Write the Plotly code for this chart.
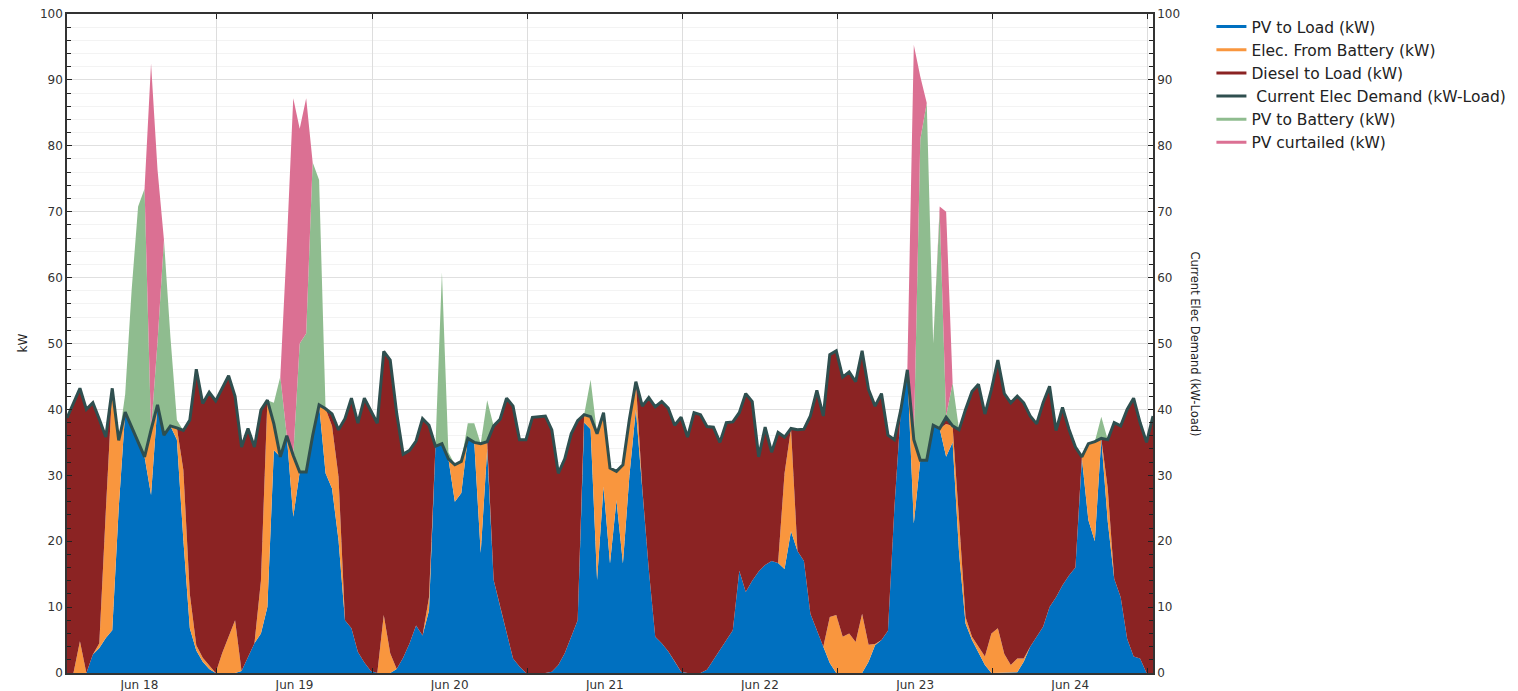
import plotly.graph_objects as go
import pandas as pd

START = "2023-06-18 00:48"
END = "2023-06-25 00:48"
hours = pd.date_range(START, periods=169, freq="h")

# Current Elec Demand (kW-Load)
demand = [
    38.7, 41.0, 43.2, 40.0, 41.0, 38.5, 35.8, 43.2, 35.3, 39.6, 37.3, 35.0, 32.8, 36.9, 40.7, 36.1, 37.5, 37.2, 36.8, 38.4, 46.1, 40.9, 42.6, 41.3,
    43.2, 45.1, 42.0, 34.3, 37.1, 34.3, 39.9, 41.4, 37.8, 32.8, 36.0, 33.0, 30.5, 30.5, 36.0, 40.7, 40.1, 39.3, 36.9, 38.6, 41.7, 37.9, 41.7, 39.8,
    37.9, 48.8, 47.5, 39.4, 33.2, 33.8, 35.2, 38.6, 37.6, 34.4, 34.8, 32.5, 31.6, 32.1, 35.6, 35.0, 34.8, 35.1, 37.5, 38.5, 41.7, 40.5, 35.4, 35.4,
    38.8, 38.9, 39.0, 36.9, 30.3, 32.5, 36.3, 38.3, 39.2, 38.9, 36.3, 39.5, 31.1, 30.6, 31.6, 38.5, 44.2, 40.5, 41.8, 40.4, 41.2, 40.2, 37.6, 38.8,
    35.8, 39.5, 39.2, 37.4, 37.3, 35.0, 38.0, 38.1, 39.5, 42.4, 41.2, 32.8, 37.3, 33.5, 36.5, 35.8, 37.1, 36.9, 37.0, 39.0, 42.9, 39.0, 48.3, 48.9,
    44.9, 45.7, 44.2, 48.9, 43.0, 40.5, 42.4, 36.1, 35.4, 40.0, 46.0, 35.4, 32.3, 32.3, 37.6, 37.1, 38.8, 37.5, 36.9, 40.0, 42.7, 43.8, 39.3, 43.0,
    47.5, 42.4, 41.0, 42.0, 41.0, 39.0, 37.8, 41.0, 43.5, 36.8, 40.3, 37.0, 34.3, 32.8, 34.8, 35.1, 35.6, 35.4, 38.0, 37.5, 40.0, 41.7, 38.0, 35.0,
    39.0,
]

pv_to_load = [
    0, 0, 0, 0, 2.8, 3.8, 5.3, 6.5, 25.0, 39.6, 37.3, 35.0, 32.8, 27.0, 40.7, 36.1, 37.5, 35.4, 20.2, 6.8, 3.4, 1.7, 0.6, 0,
    0, 0, 0, 0.3, 2.3, 4.5, 6.0, 10.0, 33.8, 32.8, 36.0, 23.7, 30.5, 30.5, 36.0, 40.7, 30.3, 28.0, 20.2, 8.0, 6.8, 3.2, 1.6, 0.3,
    0, 0, 0, 0.6, 2.3, 4.5, 7.2, 5.7, 9.5, 34.4, 34.8, 32.5, 26.0, 27.3, 35.6, 35.0, 18.2, 34.0, 14.1, 10.1, 6.0, 2.2, 1.0, 0,
    0, 0, 0, 0.2, 1.2, 3.0, 5.5, 8.0, 38.0, 37.0, 14.1, 28.3, 16.6, 26.2, 16.6, 29.9, 40.0, 28.0, 15.7, 5.5, 4.5, 3.3, 1.8, 0.2,
    0, 0, 0, 0.5, 2.0, 3.4, 5.0, 6.5, 15.5, 12.3, 14.0, 15.4, 16.4, 17.0, 16.7, 15.8, 21.5, 18.5, 17.0, 9.0, 6.5, 4.0, 1.5, 0,
    0, 0, 0, 0, 1.7, 4.2, 5.0, 6.4, 25.2, 40.0, 46.0, 22.7, 32.3, 32.3, 37.6, 37.1, 32.8, 35.0, 18.2, 7.5, 5.0, 3.0, 1.2, 0,
    0, 0, 0, 0.1, 1.7, 4.0, 5.5, 7.0, 10.0, 11.5, 13.3, 14.8, 16.0, 32.6, 23.2, 20.0, 35.6, 23.0, 14.3, 11.5, 5.2, 2.5, 2.2, 0,
    0,
]

elec_from_battery = [
    0, 0, 4.8, 0, 0, 0.7, 19.2, 36.7, 10.3, 0, 0, 0, 0, 9.9, 0, 0, 0, 1.8, 10.6, 5.2, 0.8, 0.6, 0.6, 0,
    3.0, 5.5, 8.0, 0, 0, 0, 8.0, 31.4, 4.0, 0, 0, 9.3, 0, 0, 0, 0, 9.8, 9.5, 9.6, 0, 0, 0, 0, 0,
    0, 8.8, 3.0, 0, 0, 0, 0, 0, 2.0, 0, 0, 0, 5.6, 4.8, 0, 0, 16.6, 1.1, 0, 0, 0, 0, 0, 0,
    0, 0, 0, 0, 0, 0, 0, 0, 1.2, 1.9, 22.2, 11.2, 14.5, 4.4, 15.0, 8.6, 4.2, 0, 0, 0, 0, 0, 0, 0,
    0, 0, 0, 0, 0, 0, 0, 0, 0, 0, 0, 0, 0, 0, 0, 14.5, 15.6, 0, 0, 0, 0, 0, 7.0, 8.8,
    5.5, 6.0, 4.7, 9.0, 2.6, 0.2, 0, 0, 0, 0, 0, 12.7, 0, 0, 0, 0, 5.0, 2.5, 5.0, 1.0, 0.5, 1.0, 1.3, 6.0,
    6.8, 2.9, 1.2, 2.1, 0.5, 0, 0, 0, 0, 0, 0, 0, 0, 0.2, 11.6, 15.1, 0, 5.0, 0, 0, 0, 0, 0, 0,
    0,
]

diesel_to_load = [
    38.7, 41.0, 38.4, 40.0, 38.2, 34.0, 11.3, 0, 0, 0, 0, 0, 0, 0, 0, 0, 0, 0, 6.0, 26.4, 41.9, 38.6, 41.4, 41.3,
    40.2, 39.6, 34.0, 34.0, 34.8, 29.8, 25.9, 0, 0, 0, 0, 0, 0, 0, 0, 0, 0, 1.8, 7.1, 30.6, 34.9, 34.7, 40.1, 39.5,
    37.9, 40.0, 44.5, 38.8, 30.9, 29.3, 28.0, 32.9, 26.1, 0, 0, 0, 0, 0, 0, 0, 0, 0, 23.4, 28.4, 35.7, 38.3, 34.4, 35.4,
    38.8, 38.9, 39.0, 36.7, 29.1, 29.5, 30.8, 30.3, 0, 0, 0, 0, 0, 0, 0, 0, 0, 12.5, 26.1, 34.9, 36.7, 36.9, 35.8, 38.6,
    35.8, 39.5, 39.2, 36.9, 35.3, 31.6, 33.0, 31.6, 24.0, 30.1, 27.2, 17.4, 20.9, 16.5, 19.8, 5.5, 0, 18.4, 20.0, 30.0, 36.4, 35.0, 39.8, 40.1,
    39.4, 39.7, 39.5, 39.9, 38.7, 36.1, 37.4, 29.7, 10.2, 0, 0, 0, 0, 0, 0, 0, 1.0, 0, 13.7, 31.5, 37.2, 39.8, 36.8, 37.0,
    40.7, 39.5, 39.8, 39.8, 38.8, 35.0, 32.3, 34.0, 33.5, 25.3, 27.0, 22.2, 18.3, 0, 0, 0, 0, 7.4, 23.7, 26.0, 34.8, 39.2, 35.8, 35.0,
    39.0,
]

pv_to_battery = [
    0, 0, 0, 0, 0, 0, 0, 0, 0, 2.7, 20.8, 35.8, 40.7, 0, 9.5, 29.6, 13.5, 1.2, 0, 0, 0, 0, 0, 0,
    0, 0, 0, 0, 0, 0, 0, 0, 3.2, 12.2, 0, 0, 19.5, 21.0, 41.5, 34.1, 0, 0, 0, 0, 0, 0, 0, 0,
    0, 0, 0, 0, 0, 0, 0, 0, 0, 0, 26.0, 1.0, 0, 0, 2.3, 2.9, 0, 6.3, 0, 0, 0, 0, 0, 0,
    0, 0, 0, 0, 0, 0, 0, 0, 0, 5.6, 0, 0, 0, 0, 0, 0, 0, 0, 0, 0, 0, 0, 0, 0,
    0, 0, 0, 0, 0, 0, 0, 0, 0, 0, 0, 0, 0, 0, 0, 0, 0, 0, 0, 0, 0, 0, 0, 0,
    0, 0, 0, 0, 0, 0, 0, 0, 0, 0, 0, 0, 48.7, 54.2, 12.4, 32.9, 0.2, 6.5, 0, 0, 0, 0, 0, 0,
    0, 0, 0, 0, 0, 0, 0, 0, 0, 0, 0, 0, 0, 0, 0, 0, 3.3, 0, 0, 0, 0, 0, 0, 0,
    0,
]

pv_curtailed = [
    0, 0, 0, 0, 0, 0, 0, 0, 0, 0, 0, 0, 0, 55.6, 26.2, 0, 0, 0, 0, 0, 0, 0, 0, 0,
    0, 0, 0, 0, 0, 0, 0, 0, 0, 0, 29.0, 54.2, 32.6, 35.7, 0, 0, 0, 0, 0, 0, 0, 0, 0, 0,
    0, 0, 0, 0, 0, 0, 0, 0, 0, 0, 0, 0, 0, 0, 0, 0, 0, 0, 0, 0, 0, 0, 0, 0,
    0, 0, 0, 0, 0, 0, 0, 0, 0, 0, 0, 0, 0, 0, 0, 0, 0, 0, 0, 0, 0, 0, 0, 0,
    0, 0, 0, 0, 0, 0, 0, 0, 0, 0, 0, 0, 0, 0, 0, 0, 0, 0, 0, 0, 0, 0, 0, 0,
    0, 0, 0, 0, 0, 0, 0, 0, 0, 0, 0, 59.9, 9.5, 0, 0, 0.8, 31.0, 0, 0, 0, 0, 0, 0, 0,
    0, 0, 0, 0, 0, 0, 0, 0, 0, 0, 0, 0, 0, 0, 0, 0, 0, 0, 0, 0, 0, 0, 0, 0,
    0,
]

C_BLUE = "#0070C0"
C_ORANGE = "#F9963E"
C_DIESEL = "#8B2323"
C_DEMAND = "#2F4F4F"
C_GREEN = "#8FBC8F"
C_PINK = "#DB7093"

NAME_PV = "PV to Load (kW)"
NAME_BAT = "Elec. From Battery (kW)"
NAME_DIE = "Diesel to Load (kW)"
NAME_DEM = " Current Elec Demand (kW-Load)"
NAME_PVB = "PV to Battery (kW)"
NAME_CUR = "PV curtailed (kW)"

fig = go.Figure()

areas = [
    (NAME_PV, pv_to_load, C_BLUE),
    (NAME_BAT, elec_from_battery, C_ORANGE),
    (NAME_DIE, diesel_to_load, C_DIESEL),
    (NAME_PVB, pv_to_battery, C_GREEN),
    (NAME_CUR, pv_curtailed, C_PINK),
]
for name, vals, col in areas:
    fig.add_trace(go.Scatter(
        x=hours, y=vals, name=name, mode="lines", stackgroup="one",
        line=dict(width=0, color=col), fillcolor=col, showlegend=False,
    ))

fig.add_trace(go.Scatter(
    x=hours, y=demand, name=NAME_DEM, mode="lines", yaxis="y2",
    line=dict(color=C_DEMAND, width=3), showlegend=False,
))

for name, col in [(NAME_PV, C_BLUE), (NAME_BAT, C_ORANGE), (NAME_DIE, C_DIESEL),
                  (NAME_DEM, C_DEMAND), (NAME_PVB, C_GREEN), (NAME_CUR, C_PINK)]:
    fig.add_trace(go.Scatter(x=[None], y=[None], mode="lines", name=name,
                             line=dict(color=col, width=3), showlegend=True))

tickfont = dict(family="DejaVu Sans", size=12, color="#333333")

fig.update_layout(
    width=1518, height=691,
    margin=dict(l=67, r=365, t=14, b=18, autoexpand=False),
    paper_bgcolor="white", plot_bgcolor="white",
    font=dict(family="DejaVu Sans", size=12, color="#333333"),
    showlegend=True,
    legend=dict(x=1.0538, y=1.006, xanchor="left", yanchor="top",
                traceorder="normal",
                font=dict(family="DejaVu Sans", size=15.5, color="#222222"),
                bgcolor="rgba(0,0,0,0)", tracegroupgap=0),
    xaxis=dict(type="date", range=[START, END], tick0="2023-06-18", dtick=86400000,
               ticklabelmode="period", tickformat="%b %d",
               ticks="inside", ticklen=5, tickcolor="#222222",
               showline=True, linecolor="#333333", linewidth=1.5, mirror="ticks",
               showgrid=True, gridcolor="#dddddd", gridwidth=1, zeroline=False,
               tickfont=tickfont, automargin=False),
    yaxis=dict(range=[0, 100], dtick=10, ticks="inside", ticklen=5, tickcolor="#222222",
               showline=True, linecolor="#333333", linewidth=1.5,
               showgrid=True, gridcolor="#e0e0e0", zeroline=False,
               minor=dict(dtick=2, ticks="inside", ticklen=4, tickcolor="#222222",
                          showgrid=True, gridcolor="#f3f3f3"),
               tickfont=tickfont, automargin=False),
    yaxis2=dict(overlaying="y", side="right", range=[0, 100], dtick=10,
                ticks="inside", ticklen=5, tickcolor="#222222",
                showline=True, linecolor="#333333", linewidth=1.5,
                showgrid=False, zeroline=False,
                minor=dict(dtick=2, ticks="inside", ticklen=4, tickcolor="#222222"),
                tickfont=tickfont, automargin=False),
    annotations=[
        dict(text="kW", xref="paper", yref="paper", x=-0.0414, y=0.5,
             xanchor="center", yanchor="middle",
             textangle=-90, showarrow=False, font=dict(family="DejaVu Sans", size=12, color="#222222")),
        dict(text="Current Elec Demand (kW-Load)", xref="paper", yref="paper", x=1.0387, y=0.5,
             xanchor="center", yanchor="middle",
             textangle=90, showarrow=False, font=dict(family="DejaVu Sans", size=11.5, color="#222222")),
    ],
)

fig.write_html("out.html", config={"displayModeBar": False},
               post_script="document.body.style.margin='0px';")
